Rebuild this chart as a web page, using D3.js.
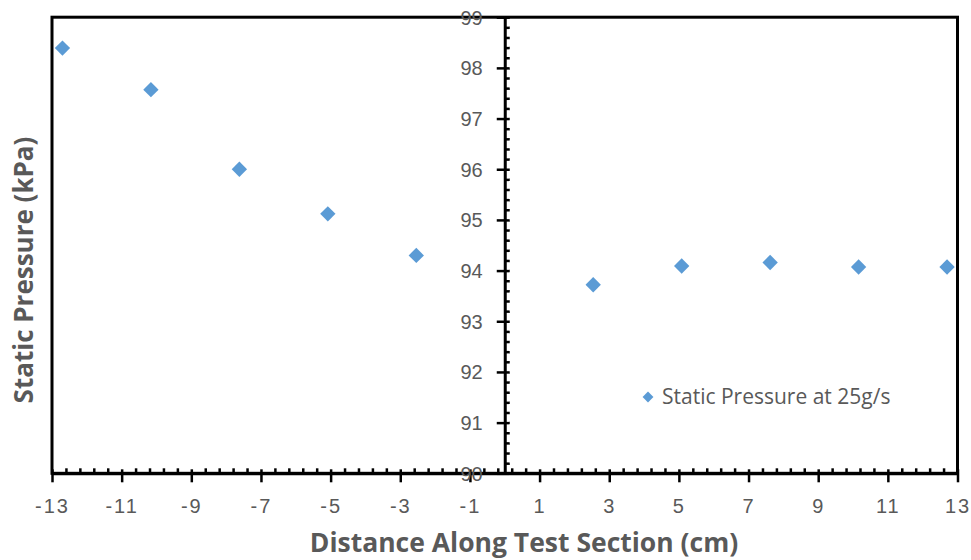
<!DOCTYPE html>
<html>
<head>
<meta charset="utf-8">
<script src="https://cdn.jsdelivr.net/npm/d3@7"></script>
<style>
  html, body { margin: 0; padding: 0; background: #fff; }
  svg { display: block; font-family: "Open Sans", Lato, sans-serif; }
</style>
</head>
<body>
<svg id="chart" width="971" height="560"></svg>
<script>
// Data
const positions = [-12.7, -10.16, -7.62, -5.08, -2.54, 2.54, 5.08, 7.62, 10.16, 12.7];
const pressure  = [98.39, 97.57, 96.00, 95.12, 94.30, 93.72, 94.09, 94.16, 94.07, 94.07];
const xTicks = [-13, -11, -9, -7, -5, -3, -1, 1, 3, 5, 7, 9, 11, 13];
const yTicks = [90, 91, 92, 93, 94, 95, 96, 97, 98, 99];
const seriesName = "Static Pressure at 25g/s";
const xTitle = "Distance Along Test Section (cm)";
const yTitle = "Static Pressure (kPa)";

const svg = d3.select("#chart");
const textColor = "#595959";
const markColor = "#5B9BD5";

const x = d3.scaleLinear().domain([-13, 13]).range([52, 957.5]);
const y = d3.scaleLinear().domain([90, 99]).range([473.3, 17.2]);

const xMinor = d3.range(-13, 13.001, 0.4).map(v => +v.toFixed(2)).filter(v => !xTicks.some(t => Math.abs(t - v) < 1e-6));
const yMinor = d3.range(90, 99.001, 0.2).map(v => +v.toFixed(2)).filter(v => !yTicks.some(t => Math.abs(t - v) < 1e-6));

// Frame
svg.append("rect")
  .attr("x", x(-13)).attr("y", y(99))
  .attr("width", x(13) - x(-13)).attr("height", y(90) - y(99))
  .attr("fill", "none").attr("stroke", "#000").attr("stroke-width", 3);

// X axis minor ticks (inside, upward)
const gxMinor = svg.append("g").attr("transform", `translate(0,${y(90)})`)
  .call(d3.axisTop(x).tickValues(xMinor).tickSize(5).tickFormat(""));
gxMinor.select(".domain").remove();
gxMinor.selectAll("line").attr("stroke", "#000").attr("stroke-width", 2.5);

// X axis major
const gx = svg.append("g").attr("transform", `translate(0,${y(90)})`)
  .call(d3.axisBottom(x).tickValues(xTicks).tickSizeInner(9).tickSizeOuter(0)
    .tickFormat(d => d < 0 ? "-" + Math.abs(d) : String(d)));
gx.select(".domain").attr("stroke", "#000").attr("stroke-width", 3);
gx.selectAll(".tick line").attr("stroke", "#000").attr("stroke-width", 2.5).attr("y1", -4);
gx.selectAll(".tick text")
  .attr("x", 0)
  .attr("y", 33).attr("dy", "0.35em")
  .attr("fill", textColor).attr("font-size", 20).attr("letter-spacing", "2px");

// Y axis minor ticks (right side)
const gyMinor = svg.append("g").attr("transform", `translate(${x(0)},0)`)
  .call(d3.axisRight(y).tickValues(yMinor).tickSize(5).tickFormat(""));
gyMinor.select(".domain").remove();
gyMinor.selectAll("line").attr("stroke", "#000").attr("stroke-width", 2.5);

// Y axis major
const gy = svg.append("g").attr("transform", `translate(${x(0)},0)`)
  .call(d3.axisLeft(y).tickValues(yTicks).tickSizeInner(8).tickSizeOuter(0));
gy.select(".domain").attr("stroke", "#000").attr("stroke-width", 3);
gy.selectAll(".tick line").attr("stroke", "#000").attr("stroke-width", 2.5).attr("x1", 5);
gy.selectAll(".tick text")
  .attr("x", -22).attr("dy", "0.35em")
  .attr("fill", textColor).attr("font-size", 20);

// Points
const diamond = d3.symbol().type(d3.symbolDiamond2).size(150);
svg.append("g").selectAll("path")
  .data(positions.map((p, i) => ({ p, v: pressure[i] })))
  .join("path")
  .attr("d", diamond)
  .attr("transform", d => `translate(${x(d.p)},${y(d.v)})`)
  .attr("fill", markColor);

// Legend
const lg = svg.append("g").attr("transform", "translate(648,397)");
lg.append("path").attr("d", d3.symbol().type(d3.symbolDiamond2).size(75)).attr("fill", markColor);
lg.append("text").attr("x", 14).attr("dy", "0.35em")
  .attr("fill", textColor).attr("font-size", 21).text(seriesName);

// Axis titles
svg.append("text")
  .attr("x", 524).attr("y", 543).attr("dy", "0.35em")
  .attr("text-anchor", "middle").attr("font-weight", "bold")
  .attr("font-size", 26.5).attr("fill", textColor).text(xTitle);

svg.append("text")
  .attr("transform", "translate(24,270) rotate(-90)")
  .attr("dy", "0.35em")
  .attr("text-anchor", "middle").attr("font-weight", "bold")
  .attr("font-size", 26).attr("fill", textColor).text(yTitle);
</script>
</body>
</html>
